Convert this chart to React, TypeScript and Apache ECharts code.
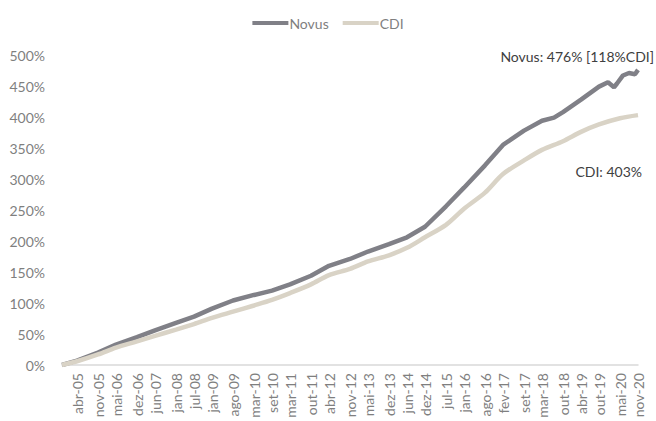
import React, { useEffect, useRef } from "react";
import * as echarts from "echarts";

const monthNames = ["jan", "fev", "mar", "abr", "mai", "jun", "jul", "ago", "set", "out", "nov", "dez"];
// monthly categories from nov-04 to nov-20
const startYear = 2004;
const startMonth = 10; // nov
const monthCount = 193;

const tickLabels = [
  "abr-05", "nov-05", "mai-06", "dez-06", "jun-07", "jan-08", "jul-08", "jan-09", "ago-09", "mar-10",
  "set-10", "mar-11", "out-11", "abr-12", "nov-12", "mai-13", "dez-13", "jun-14", "dez-14", "jul-15",
  "jan-16", "ago-16", "fev-17", "set-17", "mar-18", "out-18", "abr-19", "out-19", "mai-20", "nov-20",
];

const novusDates = [
  "nov-04", "abr-05", "nov-05", "mai-06", "dez-06", "jun-07", "jan-08", "jul-08", "jan-09", "ago-09",
  "mar-10", "set-10", "mar-11", "out-11", "abr-12", "nov-12", "mai-13", "dez-13", "jun-14", "dez-14",
  "jul-15", "jan-16", "ago-16", "fev-17", "set-17", "mar-18", "jul-18", "out-18", "abr-19", "out-19",
  "jan-20", "mar-20", "abr-20", "jun-20", "ago-20", "out-20", "nov-20",
];
const novusValues = [
  0, 7, 20, 33, 45, 56, 68, 78, 91, 104,
  113, 120, 130, 144, 160, 171, 183, 195, 206, 223,
  256, 286, 322, 355, 378, 394, 399, 408, 428, 449,
  456, 448, 454, 467, 471, 469, 476,
];

const cdiDates = [
  "nov-04", "abr-05", "nov-05", "mai-06", "dez-06", "jun-07", "jan-08", "jul-08", "jan-09", "ago-09",
  "mar-10", "set-10", "mar-11", "out-11", "abr-12", "nov-12", "mai-13", "dez-13", "jun-14", "dez-14",
  "jul-15", "jan-16", "ago-16", "fev-17", "set-17", "mar-18", "out-18", "abr-19", "out-19", "mai-20",
  "nov-20",
];
const cdiValues = [
  0, 6, 17, 28, 38, 47, 57, 66, 76, 86,
  96, 105, 116, 130, 145, 155, 167, 177, 189, 206,
  226, 252, 278, 308, 330, 347, 361, 376, 388, 398,
  403,
];

const yTicks = { min: 0, max: 500, interval: 50 };

function buildMonths(): string[] {
  const out: string[] = [];
  for (let i = 0; i < monthCount; i++) {
    const m = (startMonth + i) % 12;
    const y = startYear + Math.floor((startMonth + i) / 12);
    out.push(`${monthNames[m]}-${String(y % 100).padStart(2, "0")}`);
  }
  return out;
}

export default function App() {
  const ref = useRef<HTMLDivElement>(null);
  useEffect(() => {
    if (!ref.current) return;
    const chart = echarts.init(ref.current, undefined, { renderer: "svg" });
    const months = buildMonths();
    const font = "Lato, 'Open Sans', sans-serif";
    chart.setOption({
      animation: false,
      backgroundColor: "#ffffff",
      textStyle: { fontFamily: font },
      legend: {
        top: 11,
        left: "center",
        itemWidth: 36,
        itemHeight: 4,
        itemGap: 14,
        textStyle: { color: "#7f7f7f", fontSize: 14, fontFamily: font, padding: [0, 0, 0, -4] },
        data: [
          { name: "Novus", icon: "rect" },
          { name: "CDI", icon: "rect" },
        ],
      },
      grid: { left: 62, right: 18, top: 55, bottom: 56, containLabel: false, outerBoundsMode: "none" },
      xAxis: {
        type: "category",
        boundaryGap: false,
        data: months,
        axisLine: { lineStyle: { color: "#d9d9d9", width: 1.5 } },
        axisTick: { show: false },
        axisLabel: {
          rotate: 90,
          margin: 8,
          color: "#7f7f7f",
          fontSize: 14,
          fontFamily: font,
          interval: (_i: number, v: string) => tickLabels.includes(v),
        },
        splitLine: { show: false },
      },
      yAxis: {
        type: "value",
        min: yTicks.min,
        max: yTicks.max,
        interval: yTicks.interval,
        axisLine: { show: false },
        axisTick: { show: false },
        splitLine: { show: false },
        axisLabel: {
          margin: 17,
          color: "#7f7f7f",
          fontSize: 14,
          fontFamily: font,
          formatter: (v: number) => `${v}%`,
        },
      },
      series: [
        {
          name: "Novus",
          type: "line",
          symbol: "none",
          data: novusDates.map((d, i) => [d, novusValues[i]]),
          itemStyle: { color: "#808087" },
          lineStyle: { color: "#808087", width: 4.5 },
        },
        {
          name: "CDI",
          type: "line",
          symbol: "none",
          smooth: 0.3,
          data: cdiDates.map((d, i) => [d, cdiValues[i]]),
          itemStyle: { color: "#d9d3c6" },
          lineStyle: { color: "#d9d3c6", width: 4.5 },
        },
      ],
      graphic: [
        {
          type: "text",
          right: 2,
          top: 49,
          style: { text: "Novus: 476% [118%CDI]", fill: "#404040", fontSize: 14, fontFamily: font },
        },
        {
          type: "text",
          right: 14,
          top: 164,
          style: { text: "CDI: 403%", fill: "#404040", fontSize: 14, fontFamily: font },
        },
      ],
    });
    return () => chart.dispose();
  }, []);
  return <div ref={ref} style={{ width: 656, height: 421, position: "absolute", left: 0, top: 0 }} />;
}
